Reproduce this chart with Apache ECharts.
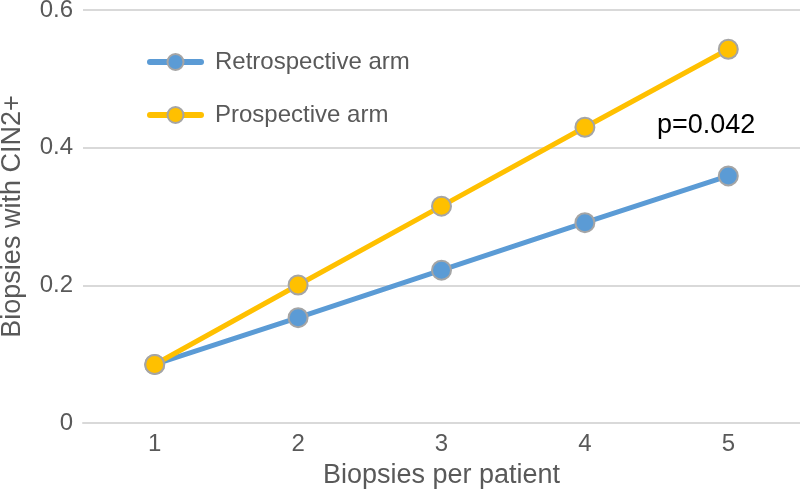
<!DOCTYPE html>
<html><head><meta charset="utf-8">
<script src="https://cdn.jsdelivr.net/npm/echarts@6/dist/echarts.min.js"></script>
<style>html,body{margin:0;padding:0;background:#fff}#c{width:800px;height:492px}</style>
</head><body><div id="c"></div>
<script>
const categories = ['1','2','3','4','5'];
const retrospective = [0.085, 0.153, 0.222, 0.291, 0.359];
const prospective = [0.085, 0.2005, 0.315, 0.4296, 0.543];
const yTicks = [0, 0.2, 0.4, 0.6];

const chart = echarts.init(document.getElementById('c'));
const font = 'Liberation Sans, Arial, Helvetica, sans-serif';
chart.setOption({
  animation:false,
  grid:{left:83, right:0, top:10, bottom:69, containLabel:false, outerBoundsMode:'none'},
  legend:{orient:'vertical', left:142, top:45, itemWidth:51, itemHeight:20, itemGap:29,
    lineStyle:{width:6, cap:'round'},
    textStyle:{fontFamily:font, fontSize:24, color:'#595959', padding:[0,0,0,9]}},
  xAxis:{type:'category', data:categories, boundaryGap:true,
    name:'Biopsies per patient', nameLocation:'middle', nameGap:39,
    nameTextStyle:{fontFamily:font, fontSize:27, color:'#595959'},
    axisLine:{lineStyle:{color:'#d9d9d9', width:2}}, axisTick:{show:false},
    axisLabel:{fontFamily:font, fontSize:24, color:'#595959', margin:9}},
  yAxis:{type:'value', min:0, max:0.6, interval:0.2,
    name:'Biopsies with CIN2+', nameLocation:'middle', nameGap:57,
    nameTextStyle:{fontFamily:font, fontSize:27, color:'#595959'},
    axisLine:{show:false}, axisTick:{show:false},
    splitLine:{lineStyle:{color:'#d9d9d9', width:2}},
    axisLabel:{fontFamily:font, fontSize:24, color:'#595959', margin:10,
      formatter: v => yTicks.includes(Math.round(v*10)/10) ? String(Math.round(v*10)/10) : ''}},
  graphic:[{type:'text', left:657, top:112, style:{text:'p=0.042', fontFamily:font, fontSize:27, fill:'#000'}}],
  series:[
    {name:'Retrospective arm', type:'line', data:retrospective, symbol:'circle', symbolSize:19,
      itemStyle:{color:'#5b9bd5', borderColor:'#a5a5a5', borderWidth:2},
      lineStyle:{width:5, color:'#5b9bd5'}},
    {name:'Prospective arm', type:'line', data:prospective, symbol:'circle', symbolSize:19,
      itemStyle:{color:'#ffc000', borderColor:'#a5a5a5', borderWidth:2},
      lineStyle:{width:5, color:'#ffc000'}}
  ]
});
</script></body></html>
